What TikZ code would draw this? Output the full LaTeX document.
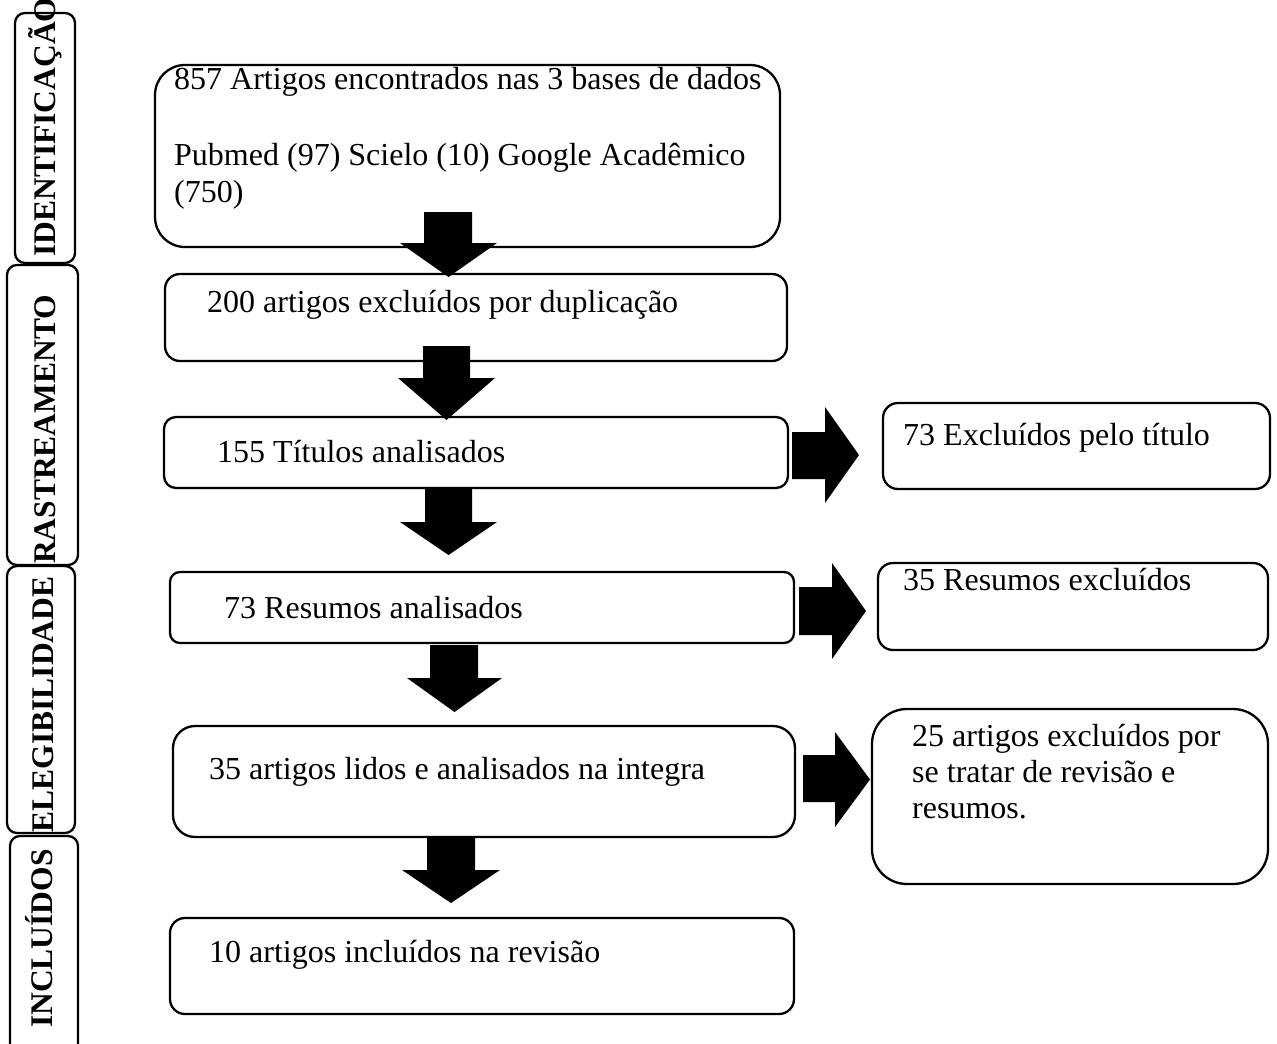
\documentclass[tikz,border=0pt]{standalone}
\usepackage{fontspec}
\setmainfont{Liberation Serif}
\usetikzlibrary{fit}
% down block arrow: shaft l, shaft r, head l, head r, shaft top, head top, tip
\newcommand\bdarrow[7]{\fill (#1,#5) -- (#2,#5) -- (#2,#6) -- (#4,#6) -- ({(#3+#4)/2},#7) -- (#3,#6) -- (#1,#6) -- cycle;}
% right block arrow: shaft top, shaft bottom, head top, head bottom, shaft left, head base, tip
\newcommand\brarrow[7]{\fill (#5,#1) -- (#6,#1) -- (#6,#3) -- (#7,{(#3+#4)/2}) -- (#6,#4) -- (#6,#2) -- (#5,#2) -- cycle;}
\begin{document}
\begin{tikzpicture}[x=1pt,y=-1pt,
  flowbox/.style={draw, line width=2.3pt, inner sep=0pt, rounded corners=#1},
  txt/.style={inner sep=0pt, anchor=base west, font=\fontsize{32}{37}\selectfont},
  lab/.style={inner sep=0pt, anchor=base, rotate=90, font=\fontsize{31.5}{36.5}\selectfont\bfseries}]
\useasboundingbox (0,0) rectangle (1277,1044);
\fill[white] (0,0) rectangle (1277,1044);
\begin{scope}
\clip (0,0) rectangle (1277,1044);
% stage label boxes
\node[flowbox=10pt, fit={(15,13) (75,263)}] (sid) {};
\node[flowbox=10pt, fit={(7,265) (78,565)}] (sras) {};
\node[flowbox=10pt, fit={(7,566) (75,833)}] (sele) {};
\node[flowbox=10pt, fit={(10,836) (78,1070)}] (sinc) {};
\node[lab] (lid) at (55,127) {IDENTIFICAÇÃO};
\node[lab] (lras) at (55,429.5) {RASTREAMENTO};
\node[lab] (lele) at (53,704.5) {ELEGIBILIDADE};
\node[lab] (linc) at (52,938.5) {INCLUÍDOS};
\end{scope}
% main boxes
\node[flowbox=30pt, fit={(155,65) (780,247)}] (b1) {};
\node[flowbox=15pt, fit={(165,274) (787,361)}] (b2) {};
\node[flowbox=12pt, fit={(164,417) (788,488)}] (b3) {};
\node[flowbox=10pt, fit={(170,572) (794,643)}] (b4) {};
\node[flowbox=22pt, fit={(173,726) (795,837)}] (b5) {};
\node[flowbox=15pt, fit={(170,918) (794,1014)}] (b6) {};
\node[flowbox=15pt, fit={(883,403) (1270,489)}] (r3) {};
\node[flowbox=15pt, fit={(878,563) (1268,650)}] (r4) {};
\node[flowbox=35pt, fit={(872,709) (1268,884)}] (r5) {};
% texts
\node[txt] (t1a) at (174,89) {857 Artigos encontrados nas 3 bases de dados};
\node[txt] (t1b) at (174,165) {Pubmed (97) Scielo (10) Google Acadêmico};
\node[txt] (t1c) at (174,202) {(750)};
\node[txt] (t2) at (207,312) {200 artigos excluídos por duplicação};
\node[txt] (t3) at (217,462) {155 Títulos analisados};
\node[txt] (t4) at (224,618) {73 Resumos analisados};
\node[txt] (t5) at (209,779) {35 artigos lidos e analisados na integra};
\node[txt] (t6) at (209,962) {10 artigos incluídos na revisão};
\node[txt] (tr3) at (903,445) {73 Excluídos pelo título};
\node[txt] (tr4) at (903,590) {35 Resumos excluídos};
\node[txt] (tr5a) at (912,746) {25 artigos excluídos por};
\node[txt] (tr5b) at (912,782) {se tratar de revisão e};
\node[txt] (tr5c) at (912,818) {resumos.};
% block arrows
\bdarrow{424}{472}{400}{497}{212}{243}{277}
\bdarrow{423}{470}{398}{495}{346}{378}{420}
\bdarrow{425}{472}{400}{497}{488}{522}{555}
\bdarrow{430}{478}{407}{502}{645}{678}{712}
\bdarrow{427}{475}{402}{500}{838}{870}{903}
\brarrow{432}{479}{407}{503}{792}{825}{859}
\brarrow{587}{635}{563}{659}{799}{832}{866}
\brarrow{755}{802}{732}{827}{803}{835}{870}
\end{tikzpicture}
\end{document}
